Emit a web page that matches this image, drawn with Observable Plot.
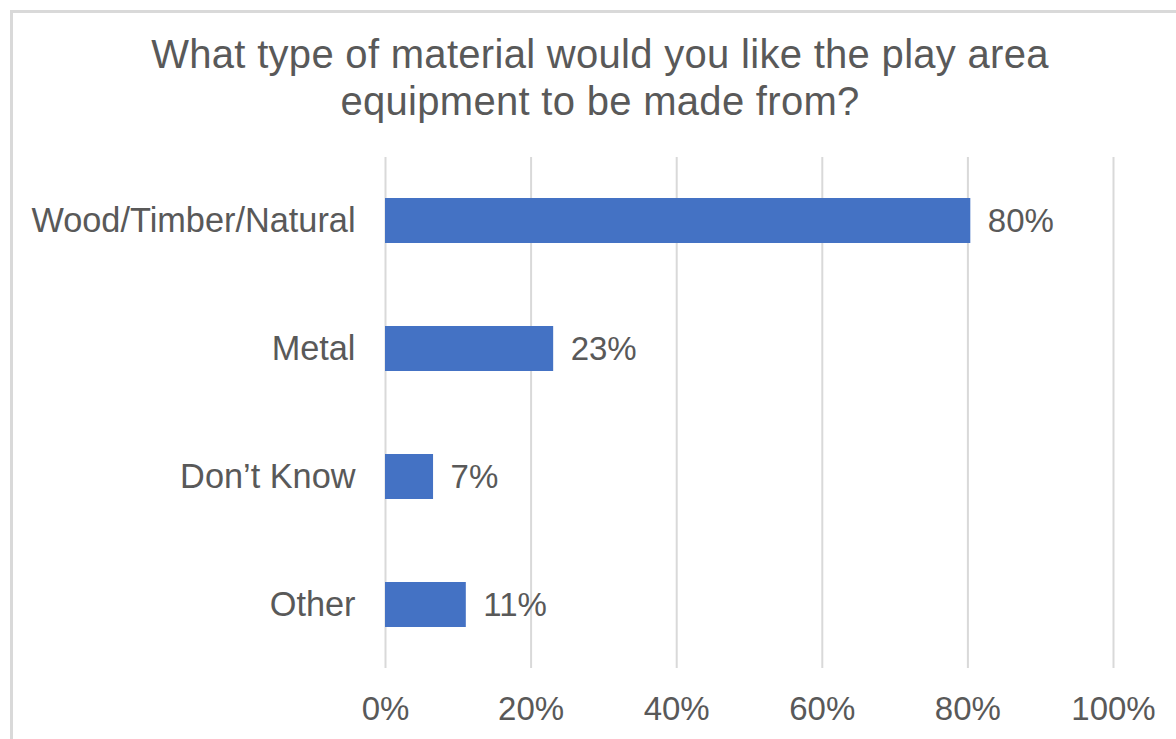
<!DOCTYPE html>
<html>
<head>
<meta charset="utf-8">
<script src="https://cdn.jsdelivr.net/npm/d3@7"></script>
<script src="https://cdn.jsdelivr.net/npm/@observablehq/plot@0.6"></script>
<style>
  html, body { margin: 0; padding: 0; background: #fff; width: 1176px; height: 739px; overflow: hidden; }
  body { font-family: "Liberation Sans", Arial, sans-serif; color: #595959; position: relative; }
  #frame { position: absolute; left: 10px; top: 10px; width: 1200px; height: 800px; border-left: 3px solid #d9d9d9; border-top: 3px solid #d9d9d9; box-sizing: border-box; }
  #title { position: absolute; left: 0; width: 1200px; top: 31px; text-align: center; font-size: 40px; line-height: 47px; letter-spacing: 0.3px; color: #595959; }
  #chart { position: absolute; left: 0; top: 140px; }
</style>
</head>
<body>
<div id="frame"></div>
<div id="title">What type of material would you like the play area<br>equipment to be made from?</div>
<div id="chart"></div>
<script>
const categories = ["Wood/Timber/Natural", "Metal", "Don\u2019t Know", "Other"];
const values = [80.4, 23.1, 6.6, 11.1];
const valueLabels = ["80%", "23%", "7%", "11%"];
const xTicks = [0, 20, 40, 60, 80, 100];

const data = categories.map((c, i) => ({ cat: c, v: values[i], label: valueLabels[i] }));

const chart = Plot.plot({
  width: 1176,
  height: 599,
  marginLeft: 385,
  marginRight: 63,
  marginTop: 17,
  marginBottom: 71,
  style: { fontFamily: "'Liberation Sans', Arial, sans-serif", color: "#595959", background: "transparent" },
  x: { domain: [0, 100], ticks: xTicks, tickFormat: d => d + "%", label: null },
  y: { domain: categories, paddingInner: 0.65, paddingOuter: 0.32, label: null },
  marks: [
    Plot.ruleX(xTicks, { stroke: "#d9d9d9", strokeWidth: 2 }),
    Plot.barX(data, { x: "v", y: "cat", fill: "#4472C4" }),
    Plot.text(data, { x: "v", y: "cat", text: "label", textAnchor: "start", dx: 17, fontSize: 33, fill: "#595959" }),
    Plot.axisX({ ticks: xTicks, tickFormat: d => d + "%", tickSize: 0, tickPadding: 28, fontSize: 33, label: null, fill: "#595959" }),
    Plot.axisY({ tickSize: 0, tickPadding: 30, fontSize: 34.3, label: null, fill: "#595959" })
  ]
});
document.getElementById("chart").appendChild(chart);
</script>
</body>
</html>
